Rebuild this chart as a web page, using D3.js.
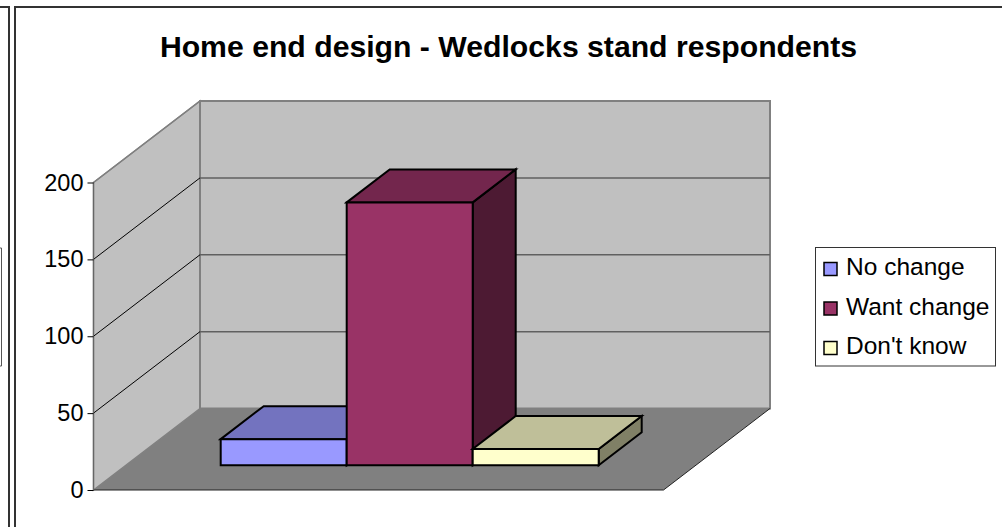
<!DOCTYPE html>
<html><head><meta charset="utf-8">
<script src="https://cdn.jsdelivr.net/npm/d3@7"></script>
<style>html,body{margin:0;padding:0;background:#fff}svg{display:block}text{font-family:"Liberation Sans",Arial,sans-serif;fill:#000}</style>
</head><body><svg id="c" width="1002" height="527"></svg>
<script>
const title = "Home end design - Wedlocks stand respondents";
const categories = ["No change", "Want change", "Don't know"];
const values = [17, 171, 10.6];
const frontColors = ["#9999ff", "#993366", "#ffffcc"];
const topColors = ["#7373bf", "#73264d", "#bfbf99"];
const sideColors = ["#4c4c80", "#4d1a33", "#808066"];
const yTicks = [0, 50, 100, 150, 200];

const svg = d3.select("#c");
const y = d3.scaleLinear().domain([0, 200]).range([490, 182.5]);
const x = d3.scaleLinear().domain([0, 1]).range([93.5, 663.5]);
const band = d3.scaleBand().domain(categories).range([220.7, 598.7]);
const wallDx = 106.5, wallDy = -81.5;
const barDx = 43, barDy = -33, barBase = 465.3, barZero = y(0);
const poly = (pts, fill, stroke, sw) => svg.append("path")
  .attr("d", d3.line()(pts) + "Z").attr("fill", fill)
  .attr("stroke", stroke).attr("stroke-width", sw).attr("stroke-linejoin", "miter");
const seg = (pts, stroke, sw) => svg.append("path").attr("d", d3.line()(pts))
  .attr("fill", "none").attr("stroke", stroke).attr("stroke-width", sw);

// page frames
seg([[0,7],[9,7],[9,527]], "#333", 2);
seg([[15,527],[15,7],[1002,7]], "#333", 2);
seg([[0,248],[1.5,248],[1.5,366],[0,366]], "#555", 1);

svg.append("text").attr("x", 508.5).attr("y", 57).attr("text-anchor","middle")
  .attr("font-size", 30.2).attr("font-weight","bold").text(title);

// walls & floor
const x0=x(0), x1=x(1), yb=y(0), yt=y(200);
poly([[x0,yb],[x0+wallDx,yb+wallDy],[x1+wallDx,yb+wallDy],[x1,yb]], "#808080", "none", 0);
poly([[x0,yt],[x0+wallDx,yt+wallDy],[x0+wallDx,yb+wallDy],[x0,yb]], "#c0c0c0", "#808080", 1.5);
poly([[x0+wallDx,yt+wallDy],[x1+wallDx,yt+wallDy],[x1+wallDx,yb+wallDy],[x0+wallDx,yb+wallDy]], "#c0c0c0", "#808080", 2);

// gridlines
yTicks.slice(1,4).forEach(t => {
  seg([[x0,y(t)],[x0+wallDx,y(t)+wallDy]], "#000", 1);
  seg([[x0+wallDx,y(t)+wallDy],[x1+wallDx,y(t)+wallDy]], "#606060", 1.5);
});
seg([[x0,yt],[x0+wallDx,yt+wallDy]], "#808080", 1.5);
seg([[x0,yb],[x1,yb],[x1+wallDx,yb+wallDy]], "#222", 1);
seg([[x0,yt],[x0,yb]], "#666", 1.2);

// axis
const axis = d3.axisLeft(y).tickValues(yTicks).tickSize(6).tickPadding(4);
const ag = svg.append("g").attr("transform", `translate(${x0},0)`).call(axis);
ag.select(".domain").remove();
ag.selectAll("text").attr("font-size", 23.5).attr("font-family","Liberation Sans").attr("fill","#000");
ag.selectAll("line").attr("stroke","#000");

// bars: blue, then maroon over it, then yellow over the maroon side
[0,1,2].forEach(i => {
  const c = categories[i], l = band(c), r = l + band.bandwidth();
  const b = barBase, t = barBase - (barZero - y(values[i]));
  poly([[r,b],[r+barDx,b+barDy],[r+barDx,t+barDy],[r,t]], sideColors[i], "#000", 2);
  poly([[l,t],[l+barDx,t+barDy],[r+barDx,t+barDy],[r,t]], topColors[i], "#000", 2);
  poly([[l,t],[r,t],[r,b],[l,b]], frontColors[i], "#000", 2);
});

// legend
svg.append("rect").attr("x",815.5).attr("y",247.5).attr("width",180).attr("height",118.5).attr("fill","#fff").attr("stroke","#333").attr("stroke-width",1);
const ly = d3.scalePoint().domain(categories).range([275, 354]);
categories.forEach((c,i) => {
  svg.append("rect").attr("x",824).attr("y",ly(c)-12.5).attr("width",13).attr("height",13)
    .attr("fill",frontColors[i]).attr("stroke","#000").attr("stroke-width",1.5);
  svg.append("text").attr("x",846).attr("y",ly(c)).attr("font-size",24.5).text(c);
});
</script></body></html>
